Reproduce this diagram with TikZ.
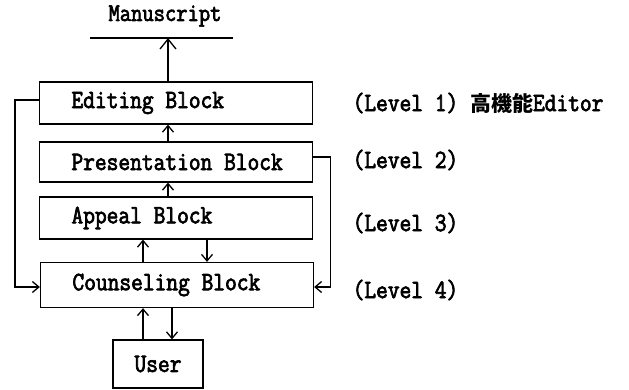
\documentclass[tikz,border=0pt]{standalone}
\usepackage{fontspec}
\usetikzlibrary{arrows.meta,calc}
\newfontfamily\monof[FakeStretch=0.86,FakeBold=2.6]{Latin Modern Mono}
\newfontfamily\cjkf{Noto Sans CJK JP}
\newcommand{\boxtext}[1]{\makebox[209pt][l]{#1}}
\begin{document}
\begin{tikzpicture}[x=1pt,y=-1pt,
  line width=1.3pt,
  arr/.style={-{Straight Barb[length=6.5pt,width=11pt]}},
  bigarr/.style={-{Straight Barb[length=10pt,width=16pt]}},
  blockbox/.style={draw, minimum width=273pt, inner xsep=32pt, inner ysep=0pt,
    font=\monof\fontsize{26.5}{28}\selectfont},
  lvl/.style={anchor=west, inner sep=0pt, font=\monof\fontsize{26.5}{28}\selectfont}]
\useasboundingbox (0,0) rectangle (629,389);

% title and its rule
\node[inner sep=0pt, font=\monof\fontsize{25.5}{28}\selectfont] (ms) at (165,16) {Manuscript};
\coordinate (ml) at (90,38);
\coordinate (mr) at (233,38);
\coordinate (mx) at (168,38);
\draw (ml) -- (mr);

% the four blocks
\node[blockbox, minimum height=42pt] (ed) at (176,103) {\boxtext{Editing Block}};
\node[blockbox, minimum height=40pt] (pr) at (176,162) {\boxtext{Presentation Block}};
\node[blockbox, minimum height=42pt] (ap) at (176,218) {\boxtext{Appeal Block}};
\node[blockbox, minimum height=45pt] (co) at (177,285) {\boxtext{Counseling Block}};
\node[draw, minimum width=90pt, minimum height=48pt, inner sep=0pt,
  font=\monof\fontsize{26.5}{28}\selectfont] (us) at (158,364) {User};

% upward flow
\draw[bigarr] (ed.north -| mx) -- (mx);
\draw[arr] (pr.north -| mx) -- (ed.south -| mx);
\draw[arr] (ap.north -| mx) -- (pr.south -| mx);
\coordinate (ua) at (143,0);
\coordinate (da) at (207,0);
\draw[arr] (co.north -| ua) -- (ap.south -| ua);
\draw[arr] (ap.south -| da) -- (co.north -| da);
\coordinate (uu) at (143,0);
\coordinate (du) at (172,0);
\draw[arr] (us.north -| uu) -- (co.south -| uu);
\draw[arr] (co.south -| du) -- (us.north -| du);

% feedback loops
\draw[arr] ($(ed.west)+(0,-3)$) -- ++(-24,0) |- ($(co.west)+(0,2)$);
\draw[arr] ($(pr.east)+(0,-5)$) -- ++(17,0) |- ($(co.east)+(0,2)$);

% level labels
\node[lvl] (l1) at (352,103) {(Level 1) {\cjkf\bfseries\fontsize{21}{24}\selectfont 高機能}Editor};
\node[lvl] (l2) at (352,160) {(Level 2)};
\node[lvl] (l3) at (352,223) {(Level 3)};
\node[lvl] (l4) at (352,290) {(Level 4)};
\end{tikzpicture}
\end{document}
